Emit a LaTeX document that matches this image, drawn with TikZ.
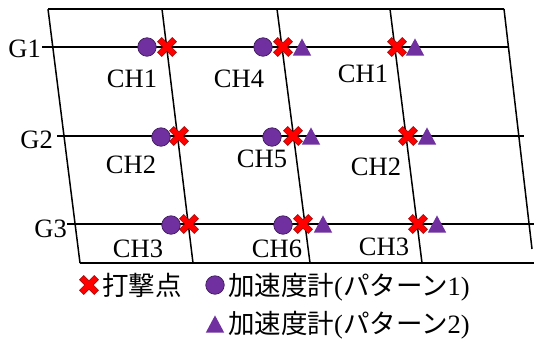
\documentclass[tikz,border=0pt]{standalone}
\usepackage{fontspec}
\setmainfont{Liberation Serif}
\newfontfamily\jpfont{Noto Sans CJK JP}
\definecolor{accpurple}{HTML}{7030A0}
\definecolor{accdark}{HTML}{3F1B5C}
\definecolor{hitred}{HTML}{FF0000}
\definecolor{hitdark}{HTML}{9A0000}
\tikzset{
  lbl/.style={font=\fontsize{26.5}{30}\selectfont, inner sep=0pt, anchor=base},
  glbl/.style={lbl, anchor=base east},
  jlbl/.style={font=\fontsize{26.5}{30}\selectfont, inner sep=0pt, anchor=base west},
  gridline/.style={line width=1.5pt, black},
  gline/.style={line width=2pt, black},
  accone/.style={circle, fill=accpurple, draw=accdark, line width=0.7pt, minimum size=18.5pt, inner sep=0pt},
  hit/.pic={\filldraw[fill=hitred, draw=hitdark, line width=0.6pt, rotate=45]
     (3,10.4) -- (3,3) -- (10.4,3) -- (10.4,-3) -- (3,-3) -- (3,-10.4) -- (-3,-10.4) -- (-3,-3)
     -- (-10.4,-3) -- (-10.4,3) -- (-3,3) -- (-3,10.4) -- cycle;},
  acctwo/.pic={\fill[accpurple] (-9.2,8.6) -- (9.2,8.6) -- (0,-8.6) -- cycle;}
}
\begin{document}
\begin{tikzpicture}[x=1pt,y=-1pt]
\useasboundingbox (0,0) rectangle (534,341);
% frame corners
\coordinate (t1) at (48,9);
\coordinate (t2) at (162,9);
\coordinate (t3) at (277,9);
\coordinate (t4) at (390,9);
\coordinate (t5) at (504,9);
\coordinate (b1) at (80,263);
\coordinate (b2) at (193,263);
\coordinate (b3) at (310,263);
\coordinate (b4) at (422,263);
\coordinate (b5) at (532,249);
\coordinate (be) at (534,263);
\draw[gridline] (t1) -- (t5);
\draw[gridline] (b1) -- (be);
\draw[gridline] (t1) -- (b1);
\draw[gridline] (t2) -- (b2);
\draw[gridline] (t3) -- (b3);
\draw[gridline] (t4) -- (b4);
\draw[gridline] (t5) -- (b5);
% girder lines
\coordinate (g1s) at (42,47);  \coordinate (g1e) at (509,47);
\coordinate (g2s) at (57,136); \coordinate (g2e) at (524,136);
\coordinate (g3s) at (67,224); \coordinate (g3e) at (534,224);
\draw[gline] (g1s) -- (g1e);
\draw[gline] (g2s) -- (g2e);
\draw[gline] (g3s) -- (g3e);
\node[glbl] (g1) at (41,57) {G1};
\node[glbl] (g2) at (53,148) {G2};
\node[glbl] (g3) at (67,237) {G3};
% channel labels
\node[lbl] (ch1a) at (132,87) {CH1};
\node[lbl] (ch4)  at (239,87) {CH4};
\node[lbl] (ch1b) at (363,82) {CH1};
\node[lbl] (ch2a) at (131,173) {CH2};
\node[lbl] (ch5)  at (262,167) {CH5};
\node[lbl] (ch2b) at (376,175) {CH2};
\node[lbl] (ch3a) at (138,257) {CH3};
\node[lbl] (ch6)  at (277,257) {CH6};
\node[lbl] (ch3b) at (384,255) {CH3};
% accelerometers (pattern 1)
\node[accone] (c11) at (147,47) {};
\node[accone] (c12) at (263,47) {};
\node[accone] (c21) at (161,137) {};
\node[accone] (c22) at (272,137) {};
\node[accone] (c31) at (171,225) {};
\node[accone] (c32) at (283,225) {};
% accelerometers (pattern 2)
\pic (a12) at (302,47) {acctwo};
\pic (a13) at (415,47) {acctwo};
\pic (a22) at (311,136) {acctwo};
\pic (a23) at (427,136) {acctwo};
\pic (a32) at (323,224) {acctwo};
\pic (a33) at (437,224) {acctwo};
% hammering points
\pic (h11) at (167,47) {hit};
\pic (h12) at (283,47) {hit};
\pic (h13) at (397,47) {hit};
\pic (h21) at (179,136) {hit};
\pic (h22) at (293,136) {hit};
\pic (h23) at (408,136) {hit};
\pic (h31) at (189,224) {hit};
\pic (h32) at (303,224) {hit};
\pic (h33) at (418,224) {hit};
% legend
\pic (lh) at (89,285) {hit};
\node[jlbl] (lht) at (102,295) {\jpfont 打撃点};
\node[accone] (lc) at (215,285) {};
\node[jlbl] (lct) at (228,295) {{\jpfont 加速度計}({\jpfont パターン}1)};
\pic (lt) at (215,324) {acctwo};
\node[jlbl] (ltt) at (228,333) {{\jpfont 加速度計}({\jpfont パターン}2)};
\end{tikzpicture}
\end{document}
